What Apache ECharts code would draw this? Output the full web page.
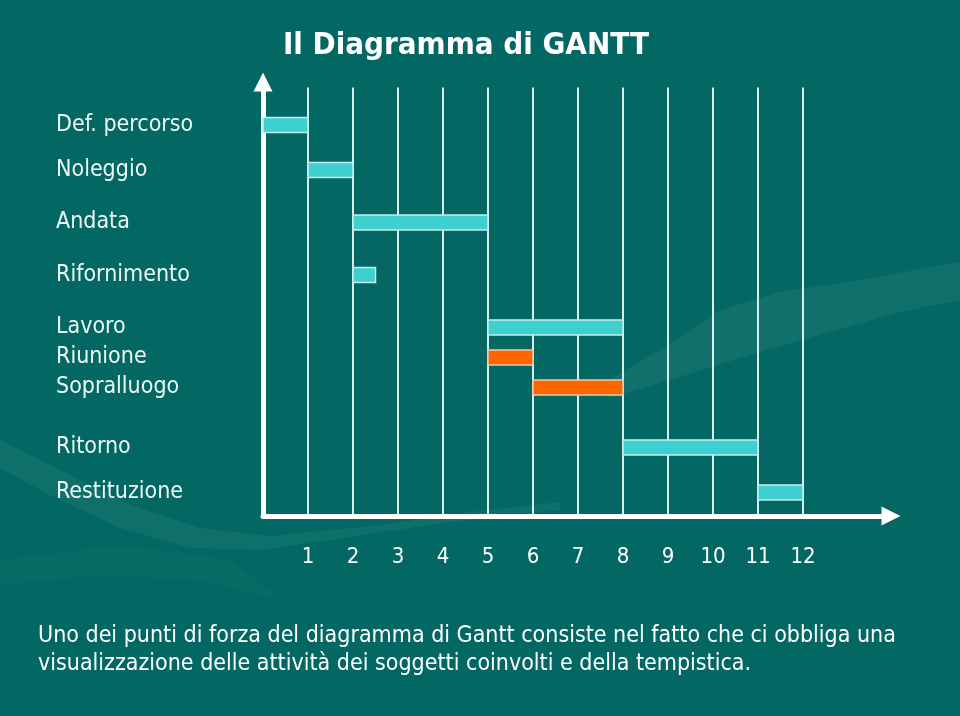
<!DOCTYPE html>
<html>
<head>
<meta charset="utf-8">
<script src="https://cdn.jsdelivr.net/npm/echarts@6/dist/echarts.min.js"></script>
<style>
html,body{margin:0;padding:0;background:#036863;}
#chart{width:960px;height:716px;}
</style>
</head>
<body>
<div id="chart"></div>
<script>
// ---- data ----
const tasks = ['Def. percorso','Noleggio','Andata','Rifornimento','Lavoro','Riunione','Sopralluogo','Ritorno','Restituzione'];
const rowPos = [0, 6, 13, 20, 27, 31, 35, 43, 49];      // vertical slot of each task row
const startDay = [0, 1, 2, 2, 5, 5, 6, 8, 11];
const endDay   = [1, 2, 5, 2.5, 8, 6, 8, 11, 12];
const kind     = ['main','main','main','main','main','sub','sub','main','main'];
const dayTicks = [1,2,3,4,5,6,7,8,9,10,11,12];
const titleText = 'Il Diagramma di GANTT';
const noteText = 'Uno dei punti di forza del diagramma di Gantt consiste nel fatto che ci obbliga una\nvisualizzazione delle attività dei soggetti coinvolti e della tempistica.';

const FONT = '"DejaVu Sans Condensed", "DejaVu Sans", sans-serif';
const colors = { main: '#3ecfcf', sub: '#ff6600' };

const barData = tasks.map((t, i) => [startDay[i], endDay[i], rowPos[i], kind[i]]);

const chart = echarts.init(document.getElementById('chart'));
chart.setOption({
  backgroundColor: '#036863',
  animation: false,
  graphic: [
    { type: 'polygon', z: -10, silent: true,
      shape: { points: [[600,385],[660,350],[720,310],[780,292],[860,280],[960,262],[960,300],[900,312],[830,332],[750,355],[670,380],[610,398]] },
      style: { fill: 'rgba(255,255,255,0.06)' } },
    { type: 'polygon', z: -10, silent: true,
      shape: { points: [[0,440],[60,470],[130,505],[200,528],[270,536],[380,525],[470,512],[560,502],[560,510],[450,522],[330,540],[260,550],[190,548],[120,528],[50,495],[0,468]] },
      style: { fill: 'rgba(255,255,255,0.05)' } },
    { type: 'polygon', z: -10, silent: true,
      shape: { points: [[0,560],[120,545],[230,560],[280,600],[200,580],[100,575],[0,585]] },
      style: { fill: 'rgba(255,255,255,0.025)' } }
  ],
  title: [
    { text: titleText, left: 461, top: 25, textAlign: 'center',
      textStyle: { color: '#ffffff', fontFamily: FONT, fontWeight: 'bold', fontSize: 31,
        textShadowColor: '#0a2a28', textShadowOffsetX: 2, textShadowOffsetY: 2, textShadowBlur: 0 } },
    { text: noteText, left: 33, top: 617,
      textStyle: { color: '#ffffff', fontFamily: FONT, fontWeight: 'normal', fontSize: 23, lineHeight: 28 } }
  ],
  grid: [
    { left: 263, width: 540, top: 87.5, height: 427.5 },
    { left: 263, right: 69, top: 82, bottom: 200 }
  ],
  xAxis: [
    { gridIndex: 0, type: 'value', min: 0, max: 12, interval: 1,
      axisLine: { show: false }, axisTick: { show: false },
      splitLine: { show: true, lineStyle: { color: '#d8eeec', width: 2 } },
      axisLabel: { color: '#ffffff', fontFamily: FONT, fontSize: 22, margin: 31,
        formatter: v => dayTicks.indexOf(v) >= 0 ? String(v) : '' } },
    { gridIndex: 1, type: 'value', min: 0, max: 1,
      axisLine: { show: true, symbol: ['none', 'triangle'], symbolSize: [19, 19],
        lineStyle: { color: '#ffffff', width: 5 } },
      axisTick: { show: false }, axisLabel: { show: false }, splitLine: { show: false } }
  ],
  yAxis: [
    { gridIndex: 0, type: 'value', min: -5, max: 52, inverse: true,
      axisLine: { show: false }, axisTick: { show: false }, splitLine: { show: false },
      axisLabel: { show: true, customValues: rowPos, align: 'left', margin: 207,
        color: '#eef8f6', fontFamily: FONT, fontSize: 23,
        formatter: v => { const i = rowPos.indexOf(v); return i >= 0 ? tasks[i] : ''; } } },
    { gridIndex: 1, type: 'value', min: 0, max: 1,
      axisLine: { show: true, symbol: ['none', 'triangle'], symbolSize: [19, 19],
        lineStyle: { color: '#ffffff', width: 5 } },
      axisTick: { show: false }, axisLabel: { show: false }, splitLine: { show: false } }
  ],
  series: [{
    type: 'custom',
    xAxisIndex: 0, yAxisIndex: 0,
    data: barData,
    encode: { x: [0, 1], y: 2 },
    renderItem: function (params, api) {
      const s = api.coord([api.value(0), api.value(2)]);
      const e = api.coord([api.value(1), api.value(2)]);
      const h = api.size([0, 2])[1];
      const k = barData[params.dataIndex][3];
      return {
        type: 'rect',
        shape: { x: s[0], y: s[1] - h / 2, width: e[0] - s[0], height: h },
        style: { fill: colors[k], stroke: k === 'main' ? '#c6eeee' : '#f2c8a8', lineWidth: 1.5 }
      };
    }
  }]
});
</script>
</body>
</html>
